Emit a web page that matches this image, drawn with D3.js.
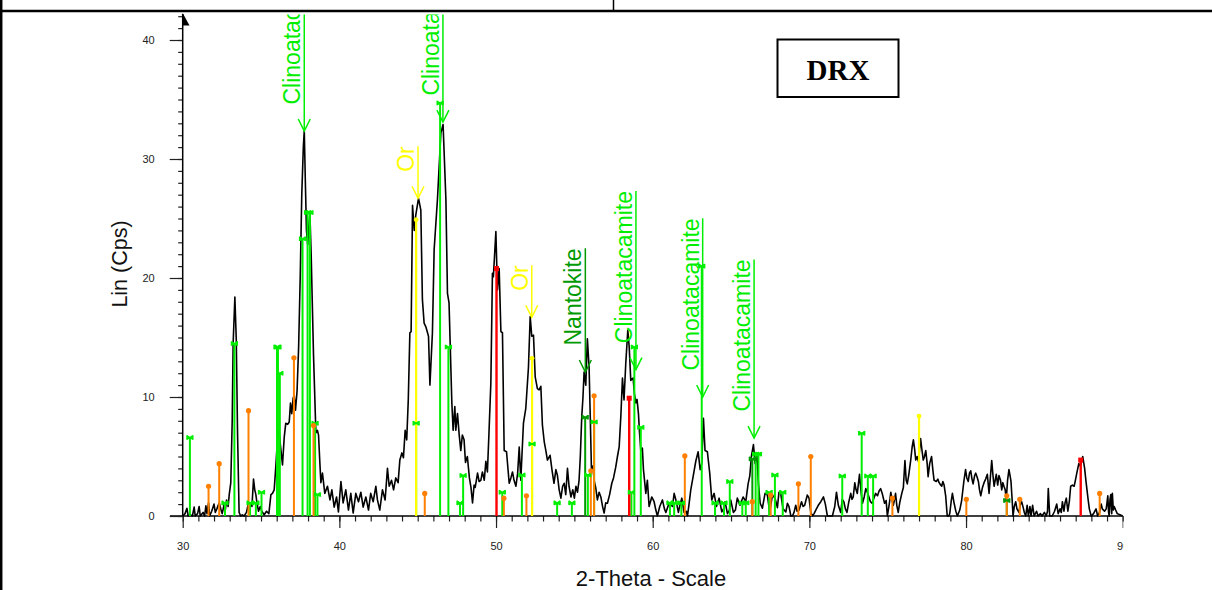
<!DOCTYPE html>
<html><head><meta charset="utf-8">
<script src="https://cdn.jsdelivr.net/npm/d3@7"></script>
<style>body{margin:0;background:#fff;overflow:hidden} svg{display:block}</style>
</head><body>
<svg id="chart" width="1212" height="590"></svg>
<script>
// ---------- DATA ----------
// measured scan: [2-theta, Lin (Cps)]
const scan = [
[30.00,0],[30.15,0.2],[30.27,0.65],[30.35,0],[30.5,0.1],[30.62,0],[30.73,0.75],[30.8,0],[30.95,0.2],[31.05,0.8],
[31.12,0],[31.3,0.3],[31.4,0],[31.48,0.85],[31.55,0.2],[31.65,1.1],[31.72,0],[31.85,0.4],[32.0,1.0],[32.08,0.3],
[32.18,0.6],[32.33,1.1],[32.45,0.5],[32.52,0.2],[32.65,1.0],[32.72,0.5],[32.8,1.35],[32.9,0.8],[32.97,1.8],[33.07,2.8],
[33.16,8],[33.22,14.5],[33.33,18.4],[33.42,14.8],[33.5,7.0],[33.6,0.3],[33.7,0],[33.8,0.1],[33.92,0],[34.07,0.3],
[34.2,1.1],[34.3,1.1],[34.42,0.8],[34.52,3.1],[34.6,2.2],[34.67,1.8],[34.74,1.1],[34.84,0.4],[34.95,0.8],[35.05,0.4],
[35.2,0.1],[35.35,0.4],[35.5,0.2],[35.63,1.8],[35.73,1.9],[35.84,2.2],[35.95,4.3],[36.05,6.5],[36.15,7.2],[36.25,5.8],
[36.37,4.3],[36.48,6.6],[36.58,7.8],[36.7,7.7],[36.8,7.9],[36.88,9.5],[36.96,8.6],[37.05,9.9],[37.12,10.1],[37.2,8.9],
[37.3,10.5],[37.4,14.2],[37.5,20],[37.6,27],[37.7,31],[37.76,32.4],[37.83,28],[37.9,24],[37.98,22.8],[38.06,24.5],
[38.12,25.4],[38.2,22],[38.27,18],[38.35,13.5],[38.42,10.5],[38.5,7.0],[38.6,7.2],[38.67,6.8],[38.75,4.6],[38.82,2.8],
[38.92,3.6],[39.07,1.9],[39.24,2.5],[39.4,1.35],[39.52,2.2],[39.67,0.75],[39.82,1.6],[39.94,0.35],[40.1,2.9],[40.24,1.1],
[40.41,2.2],[40.58,0.5],[40.73,1.9],[40.88,0.25],[41.05,1.9],[41.22,1.2],[41.37,2.0],[41.52,0.75],[41.69,1.6],[41.86,0.5],
[42.0,1.9],[42.16,1.2],[42.33,2.5],[42.43,1.35],[42.58,0.5],[42.75,2.2],[42.92,1.35],[43.07,4.0],[43.18,2.5],[43.33,3.0],
[43.46,2.2],[43.6,3.2],[43.75,2.8],[43.86,4.7],[43.99,5.3],[44.09,4.9],[44.2,7.2],[44.3,6.4],[44.4,9.8],[44.5,15.4],
[44.58,15.5],[44.67,26.1],[44.78,24.0],[44.88,25.3],[45.05,26.7],[45.2,25.7],[45.3,18.2],[45.41,16.2],[45.52,15.9],[45.69,15.1],
[45.78,11.0],[45.94,15.4],[46.05,22.4],[46.26,26.6],[46.48,32.2],[46.62,32.9],[46.8,26.6],[46.9,18.7],[47.0,17.9],[47.18,9.5],
[47.26,7.2],[47.37,9.2],[47.43,7.2],[47.54,8.6],[47.65,6.8],[47.75,5.5],[47.85,6.8],[47.96,6.4],[48.05,4.5],[48.17,5.0],
[48.3,3.2],[48.4,2.4],[48.5,1.1],[48.6,2.6],[48.67,2.4],[48.82,3.6],[48.92,2.9],[49.03,3.0],[49.13,3.7],[49.25,3.0],
[49.35,4.6],[49.45,3.7],[49.55,7],[49.67,11.2],[49.77,20.4],[49.83,20.1],[49.99,23.9],[50.09,19.0],[50.2,20.8],[50.31,15.5],
[50.41,15.4],[50.52,5.5],[50.67,5.4],[50.84,2.75],[50.95,3.2],[51.05,3.7],[51.15,3.0],[51.27,2.5],[51.38,3.6],[51.48,5.8],
[51.58,3.0],[51.75,7.8],[51.9,9.05],[52.07,12.5],[52.18,16.75],[52.28,15.1],[52.39,15.2],[52.5,11.7],[52.64,10.7],[52.75,10.6],
[52.86,10.9],[52.96,7.65],[53.08,6.2],[53.18,5.5],[53.28,4.7],[53.45,5.1],[53.58,3.8],[53.7,2.75],[53.82,3.9],[53.92,3.4],
[54.03,2.2],[54.14,1.5],[54.25,2.5],[54.35,2.75],[54.45,1.8],[54.56,4.0],[54.66,2.5],[54.78,1.6],[54.9,2.2],[55.0,1.5],
[55.1,2.5],[55.2,2.0],[55.3,3.0],[55.38,5.0],[55.47,8.3],[55.55,10.0],[55.62,12.1],[55.73,11.0],[55.83,14.9],[55.94,12.5],
[56.02,8.0],[56.09,3.9],[56.18,4.2],[56.26,3.0],[56.36,2.4],[56.47,1.35],[56.58,2.0],[56.69,1.6],[56.8,0.8],[56.9,0.25],
[57.0,1.1],[57.11,1.07],[57.25,1.8],[57.39,2.75],[57.5,3.2],[57.64,4.1],[57.75,5.0],[57.86,5.8],[57.97,8.5],[58.07,11.6],
[58.17,9.75],[58.28,12.8],[58.41,15.6],[58.5,14.2],[58.6,11.4],[58.75,11.6],[58.83,10.3],[58.92,9.5],[59.0,9.8],[59.09,8.6],
[59.16,7.0],[59.24,5.5],[59.34,5.7],[59.41,3.9],[59.56,1.9],[59.66,3.0],[59.77,0.8],[59.94,1.6],[60.09,1.2],[60.2,0.5],
[60.3,0],[60.45,0.8],[60.62,1.35],[60.75,0.6],[60.84,0.3],[61.0,0.9],[61.09,1.07],[61.26,0.8],[61.37,1.9],[61.48,1.35],
[61.64,0.3],[61.75,1.0],[61.86,1.5],[62.0,0.3],[62.15,0.4],[62.22,0],[62.32,1.0],[62.43,2.2],[62.58,3.3],[62.75,4.6],
[62.9,5.4],[63.03,3.9],[63.13,4.4],[63.24,8.2],[63.34,5.5],[63.49,5.4],[63.64,3.6],[63.77,1.35],[63.92,1.9],[64.07,0.8],
[64.24,1.5],[64.41,0.35],[64.52,0.6],[64.62,1.2],[64.77,0.2],[64.9,0.5],[64.98,1.35],[65.15,0.3],[65.28,0.5],[65.4,1.5],
[65.57,0.9],[65.77,1.6],[65.94,1.2],[66.09,2.7],[66.2,3.4],[66.3,5.0],[66.43,6.0],[66.54,4.4],[66.65,5.1],[66.75,2.7],
[66.86,1.07],[67.0,0.65],[67.17,1.9],[67.32,1.76],[67.47,0.3],[67.64,1.76],[67.81,1.5],[67.96,0.7],[68.06,2.0],[68.17,1.9],
[68.32,0.6],[68.5,0.35],[68.6,1.07],[68.7,0.8],[68.82,0],[68.92,0],[69.02,0.3],[69.13,0.9],[69.22,0.4],[69.34,0.5],
[69.5,1.2],[69.6,0.8],[69.7,0.9],[69.87,1.76],[69.98,1.5],[70.09,0.3],[70.2,0],[70.3,0.2],[70.45,0.6],[70.57,0.9],
[70.73,1.2],[70.9,1.6],[71.02,1.0],[71.15,0],[71.3,0],[71.47,0],[71.62,0.8],[71.73,2.0],[71.85,0.9],[72.0,0.3],
[72.1,1.4],[72.2,1.2],[72.3,0.6],[72.4,0.3],[72.52,1.2],[72.64,1.9],[72.72,1.4],[72.8,1.6],[72.9,2.8],[72.98,2.2],
[73.06,1.9],[73.2,3.5],[73.3,2.0],[73.39,1.07],[73.5,1.6],[73.6,2.3],[73.7,2.0],[73.8,1.6],[73.9,1.2],[74.0,1.07],
[74.12,1.5],[74.23,1.9],[74.35,1.7],[74.45,2.1],[74.55,2.3],[74.65,1.9],[74.8,1.07],[74.9,1.3],[74.98,0],[75.1,1.0],
[75.2,2.0],[75.28,1.3],[75.36,0.9],[75.45,1.5],[75.5,1.9],[75.58,0.9],[75.67,0.3],[75.78,1.2],[75.9,1.9],[76.0,2.4],
[76.1,4.65],[76.18,3.0],[76.25,2.7],[76.35,3.5],[76.47,4.7],[76.56,5.8],[76.64,6.4],[76.72,5.6],[76.79,4.7],[76.88,5.0],
[76.96,4.6],[77.03,5.5],[77.1,6.5],[77.2,5.4],[77.27,4.7],[77.35,5.0],[77.43,5.5],[77.52,4.4],[77.58,3.3],[77.68,4.4],
[77.8,5.0],[77.88,3.9],[77.96,3.0],[78.1,2.9],[78.2,3.1],[78.28,2.8],[78.38,2.6],[78.45,2.5],[78.52,2.9],[78.6,2.6],
[78.7,1.7],[78.8,0],[78.9,0],[78.96,0.2],[79.05,1.2],[79.13,1.9],[79.24,1.07],[79.35,0.4],[79.45,0],[79.6,0.5],
[79.72,1.3],[79.86,2.9],[79.97,3.9],[80.05,3.2],[80.14,2.9],[80.22,3.6],[80.3,3.8],[80.38,3.1],[80.45,2.7],[80.55,3.4],
[80.62,3.6],[80.7,3.3],[80.79,2.9],[80.86,2.2],[80.94,1.7],[81.05,2.4],[81.15,2.8],[81.25,3.1],[81.36,3.5],[81.47,1.9],
[81.55,3.2],[81.64,4.65],[81.72,3.4],[81.79,2.5],[81.86,3.0],[81.93,3.5],[82.02,2.6],[82.1,3.4],[82.2,3.0],[82.28,2.2],
[82.35,2.8],[82.42,2.5],[82.5,2.2],[82.57,1.4],[82.65,3.0],[82.74,3.9],[82.81,3.4],[82.87,2.9],[82.95,1.2],[83.0,0],
[83.08,0.8],[83.17,1.2],[83.25,0.6],[83.38,0.3],[83.45,0.9],[83.55,1.2],[83.65,0.7],[83.72,0.3],[83.81,0],[83.9,0.9],
[83.98,0],[84.08,0.8],[84.15,0],[84.25,0.9],[84.35,0],[84.5,0.4],[84.6,0],[84.75,0.2],[84.85,0],[85.0,0.3],
[85.12,0],[85.2,0.4],[85.25,2.3],[85.34,0],[85.5,0],[85.65,0.4],[85.79,1.0],[85.88,0.2],[86.0,0.6],[86.08,0.3],
[86.15,1.2],[86.25,0.4],[86.32,1.1],[86.4,1.5],[86.5,0.4],[86.6,1.3],[86.68,2.5],[86.79,2.6],[86.9,2.5],[86.98,3.0],
[87.07,3.6],[87.15,4.1],[87.2,4.4],[87.3,4.2],[87.38,4.6],[87.45,5.0],[87.57,4.0],[87.65,3.0],[87.72,2.2],[87.8,1.3],
[87.87,0.6],[87.99,0],[88.07,0.1],[88.14,0.2],[88.22,0.4],[88.3,0.6],[88.4,0],[88.52,0.3],[88.63,1.0],[88.7,0.6],
[88.84,0.4],[88.95,0.6],[89.05,1.7],[89.1,0.3],[89.14,0],[89.19,1.4],[89.24,1.8],[89.3,0.2],[89.34,1.9],[89.4,0.5],
[89.46,0.8],[89.55,0.5],[89.65,0.2],[89.82,0.1],[90.0,0]
];

const xTickLabels = ["30","40","50","60","70","80","90"];
const yTickLabels = ["0","10","20","30","40"];

// reference stick patterns: [2-theta, Lin]
const clinoatacamite = [
[30.46,6.6],[32.7,1.1],[33.3,14.5],[34.3,1.1],[34.67,1.1],[35.03,2.0],[36.02,14.2],[36.08,14.2],[36.2,12.0],
[37.65,23.3],[37.97,25.5],[38.12,25.5],[38.45,7.8],[38.6,1.8],[44.9,7.8],[46.43,34.7],[46.96,14.2],[47.7,1.1],[47.9,3.4],
[50.4,2.0],[51.65,3.45],[52.3,6.05],[53.9,1.1],[54.84,1.1],[55.86,3.45],[56.26,7.9],[58.64,2.0],[58.83,14.2],[59.24,7.45],
[61.1,1.1],[61.37,1.1],[61.83,1.1],[63.13,21.0],[63.98,1.1],[64.55,1.1],[64.92,2.9],[65.72,1.1],[65.94,1.1],
[66.57,5.2],[66.75,5.2],[67.43,2.0],[67.8,3.45],[68.3,2.0],[72.1,3.36],[73.34,6.95],[73.73,3.36],[74.07,3.36]
];
const nantokite = [[55.69,8.3],[66.36,4.8],[82.6,1.3]];
const gold = [[44.9,24.9],[52.3,13.25],[77.0,8.4]];           // "Or"
const orangePhase = [
[31.65,2.5],[32.33,4.4],[34.2,8.85],[37.1,13.3],[38.35,7.6],[45.45,1.9],[50.5,1.5],[51.94,1.7],[56.05,3.8],[56.26,10.1],
[62.05,5.05],[66.36,1.2],[67.53,1.75],[69.3,2.7],[70.09,5.0],[75.3,1.5],[80.02,1.4],[82.6,1.7],[83.43,1.4],[88.53,1.9]
];
const redPhase = [[50.03,20.8],[58.5,9.9],[87.32,4.7]];

// peak annotations
const annotLabels = ["Clinoatacamite","Clinoatacamite","Or","Or","Nantokite","Clinoatacamite","Clinoatacamite","Clinoatacamite"];
const annotTheta  = [37.76,46.61,45.02,52.28,55.70,58.93,63.19,66.47];
const annotLin    = [32.35,33.1,26.7,16.7,12.1,12.3,10.0,6.55];
const annotPhase  = ["clino","clino","gold","gold","nanto","clino","clino","clino"];

// ---------- STYLE ----------
const colors = {clino:"#00ee00", nanto:"#009a00", gold:"#ffff00", orange:"#ff8000", red:"#ff0000"};
const FONT = "'Liberation Sans', Arial, sans-serif";

const svg = d3.select("#chart");
const x = d3.scaleLinear().domain([30, 90]).range([182.7, 1122.7]);
const y = d3.scaleLinear().domain([0, 40]).range([516, 40]);

// frame
svg.append("line").attr("x1",0).attr("x2",1212).attr("y1",11).attr("y2",11).attr("stroke","#000").attr("stroke-width",2.5);
svg.append("line").attr("x1",1.2).attr("x2",1.2).attr("y1",0).attr("y2",590).attr("stroke","#000").attr("stroke-width",2.5);
svg.append("line").attr("x1",613.5).attr("x2",613.5).attr("y1",0).attr("y2",11).attr("stroke","#000").attr("stroke-width",1.5);

// clips
const defs = svg.append("defs");
defs.append("clipPath").attr("id","plotclip").append("rect")
  .attr("x", x(30)).attr("y", 14.5).attr("width", x(90)-x(30)+0.5).attr("height", 518-14.5);
// local coords of the x-axis group (translated by 516)
defs.append("clipPath").attr("id","xlabclip").append("rect")
  .attr("x", 0).attr("y", -2).attr("width", x(90)+0.6).attr("height", 60);

// axes - x
const xMinor = d3.axisBottom(x).tickValues(d3.range(30, 91, 1)).tickSize(5.5).tickFormat("").tickSizeOuter(0);
const xMajor = d3.axisBottom(x).tickValues(d3.range(30, 91, 10)).tickSize(12).tickPadding(14)
  .tickFormat((d,i)=>xTickLabels[i]).tickSizeOuter(0);
const gxm = svg.append("g").attr("transform","translate(0,516)").call(xMinor);
const gx = svg.append("g").attr("transform","translate(0,516)").call(xMajor);
[gxm,gx].forEach(g=>{ g.select(".domain").remove(); g.selectAll("line").attr("stroke","#222").attr("stroke-width",1.2); });
gx.selectAll("text").attr("font-family",FONT).attr("font-size",11).attr("fill","#222");
gx.attr("clip-path","url(#xlabclip)");
svg.append("line").attr("x1",170).attr("x2",x(90)).attr("y1",516).attr("y2",516).attr("stroke","#000").attr("stroke-width",1.5);

// axes - y
const yMinor = d3.axisLeft(y).tickValues(d3.range(0, 43, 1)).tickSize(4.5).tickFormat("").tickSizeOuter(0);
const yMajor = d3.axisLeft(y).tickValues(d3.range(0, 41, 10)).tickSize(13).tickPadding(15)
  .tickFormat((d,i)=>yTickLabels[i]).tickSizeOuter(0);
const gym = svg.append("g").attr("transform",`translate(${x(30)},0)`).call(yMinor);
const gy = svg.append("g").attr("transform",`translate(${x(30)},0)`).call(yMajor);
[gym,gy].forEach(g=>{ g.select(".domain").remove(); g.selectAll("line").attr("stroke","#222").attr("stroke-width",1.2); });
gy.selectAll("text").attr("font-family",FONT).attr("font-size",11).attr("fill","#222");
svg.append("line").attr("x1",x(30)).attr("x2",x(30)).attr("y1",516).attr("y2",14).attr("stroke","#000").attr("stroke-width",1.5);
svg.append("path").attr("d",`M${x(30)},13 L${x(30)+6.8},25.5 L${x(30)},25.5 Z`).attr("fill","#000");

// axis titles
svg.append("text").attr("x",651).attr("y",585.5).attr("text-anchor","middle")
  .attr("font-family",FONT).attr("font-size",22).attr("fill","#111").text("2-Theta - Scale");
svg.append("text").attr("transform","translate(127,264) rotate(-90)").attr("text-anchor","middle")
  .attr("font-family",FONT).attr("font-size",21.5).attr("fill","#111").text("Lin (Cps)");

const plot = svg.append("g").attr("clip-path","url(#plotclip)");

// scan line
plot.append("path").datum(scan)
  .attr("d", d3.line().x(d=>x(d[0])).y(d=>y(d[1])))
  .attr("fill","none").attr("stroke","#000").attr("stroke-width",1.6).attr("stroke-linejoin","round");

// sticks
function sticks(data, color, w){
  plot.append("g").selectAll("line").data(data).join("line")
    .attr("x1",d=>x(d[0])).attr("x2",d=>x(d[0])).attr("y1",y(0)).attr("y2",d=>y(d[1]))
    .attr("stroke",color).attr("stroke-width",w);
}
function bowties(data, color){
  plot.append("g").selectAll("path").data(data).join("path")
    .attr("transform",d=>`translate(${x(d[0])},${y(d[1])})`)
    .attr("d","M-3,-2.2V2.2M3,-2.2V2.2M-3,0H3M-3,-2L0,0L-3,2M3,-2L0,0L3,2")
    .attr("fill","none").attr("stroke",color).attr("stroke-width",1.3);
}
sticks(clinoatacamite, colors.clino, 2);
sticks(nantokite, colors.nanto, 2);
sticks(orangePhase, colors.orange, 2);
sticks(gold, colors.gold, 2.2);
sticks(redPhase, colors.red, 2.4);
bowties(clinoatacamite, colors.clino);
bowties(nantokite, colors.nanto);
plot.append("g").selectAll("circle").data(orangePhase).join("circle")
  .attr("cx",d=>x(d[0])).attr("cy",d=>y(d[1])).attr("r",2.6).attr("fill",colors.orange);
plot.append("g").selectAll("circle").data(gold).join("circle")
  .attr("cx",d=>x(d[0])).attr("cy",d=>y(d[1])).attr("r",2.4).attr("fill",colors.gold);
plot.append("g").selectAll("rect").data(redPhase).join("rect")
  .attr("x",d=>x(d[0])-2.5).attr("y",d=>y(d[1])-2.5).attr("width",5).attr("height",5).attr("fill",colors.red);

// annotations
annotLabels.forEach((lab,i)=>{
  const c = colors[annotPhase[i]];
  const lx = x(annotTheta[i]), tip = y(annotLin[i]);
  const g = plot.append("g");
  const t = g.append("text").attr("transform",`translate(${lx-4},${tip-26.5}) rotate(-90)`)
    .attr("font-family",FONT).attr("font-size",23).attr("fill",c).text(lab);
  const len = t.node().getComputedTextLength();
  const top = tip-26.5-len;
  g.append("line").attr("x1",lx).attr("x2",lx).attr("y1",top).attr("y2",tip).attr("stroke",c).attr("stroke-width",1.5);
  g.append("path").attr("d",`M${lx-6},${tip-12}L${lx},${tip}L${lx+6},${tip-12}`)
    .attr("fill","none").attr("stroke",c).attr("stroke-width",1.5);
});

// DRX box
svg.append("rect").attr("x",777.5).attr("y",39.5).attr("width",121).attr("height",57.5)
  .attr("fill","#fff").attr("stroke","#000").attr("stroke-width",2);
svg.append("text").attr("x",838).attr("y",80).attr("text-anchor","middle")
  .attr("font-family","'Liberation Serif','Times New Roman',serif").attr("font-weight","bold")
  .attr("font-size",29).attr("fill","#000").text("DRX");
</script>
</body></html>
